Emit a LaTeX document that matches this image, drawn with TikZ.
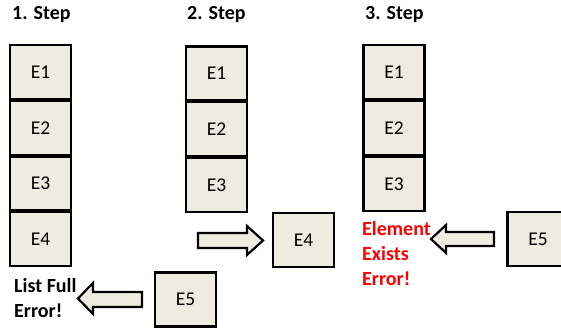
\documentclass[tikz,border=0pt]{standalone}
\usepackage{fontspec}
\setmainfont{Carlito}
\definecolor{boxfill}{RGB}{238,236,225}
\definecolor{errred}{RGB}{255,0,0}
\tikzset{
  elem/.style={draw=black, fill=boxfill, line width=2.2pt, minimum width=61pt, minimum height=54pt, inner sep=0pt, font=\fontsize{19.5}{21}\selectfont},
  title/.style={font=\bfseries\fontsize{20}{22}\selectfont, anchor=west, inner sep=0pt},
  errtext/.style={font=\bfseries\fontsize{20}{25}\selectfont, anchor=north west, inner sep=0pt, align=left},
  blockarrow/.style={draw=black, fill=boxfill, line width=2.2pt, line join=miter}
}
\begin{document}
\begin{tikzpicture}[x=1pt,y=-1pt]
\useasboundingbox (0,0) rectangle (561,329);
\clip (0,0) rectangle (561,329);
% titles
\node[title] (t1) at (12,15) {1. Step};
\node[title] (t2) at (187,15) {2. Step};
\node[title] (t3) at (365,15) {3. Step};
% step 1
\node[elem] (a1) at (40.5,72) {E1};
\node[elem] (a2) at (40.5,128) {E2};
\node[elem] (a3) at (40.5,183.5) {E3};
\node[elem] (a4) at (40.5,239) {E4};
\node[elem] (a5) at (185.5,299.5) {E5};
\node[errtext] (e1) at (14,278) {List Full\\Error!};
% arrow step 1 (pointing left)
\draw[blockarrow] (142,292) -- (93,292) -- (93,283) -- (78,298.5) -- (93,314) -- (93,307) -- (142,307) -- cycle;
% step 2
\node[elem] (b1) at (216.5,73.5) {E1};
\node[elem] (b2) at (216.5,129) {E2};
\node[elem] (b3) at (216.5,185) {E3};
\node[elem] (b4) at (303.5,240) {E4};
\draw[blockarrow] (198,233) -- (247,233) -- (247,226) -- (263,240.5) -- (247,255) -- (247,248) -- (198,248) -- cycle;
% step 3
\node[elem] (c1) at (394,72) {E1};
\node[elem] (c2) at (394,128) {E2};
\node[elem] (c3) at (394,184) {E3};
\node[elem] (c5) at (538,239) {E5};
\draw[blockarrow] (494,232) -- (446,232) -- (446,225) -- (431,239) -- (446,253) -- (446,246) -- (494,246) -- cycle;
\node[errtext, text=errred] (e3) at (362,221) {Element\\Exists\\Error!};
\end{tikzpicture}
\end{document}
